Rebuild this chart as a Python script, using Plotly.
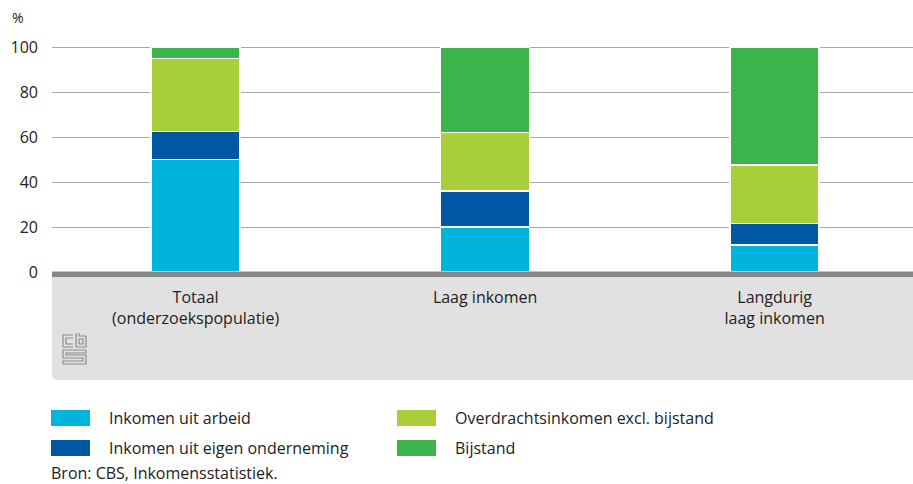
import plotly.graph_objects as go

# ---------------- data ----------------
categories = ["Totaal<br>(onderzoekspopulatie)", "Laag inkomen", "Langdurig<br>laag inkomen"]
series_names = [
    "Inkomen uit arbeid",
    "Inkomen uit eigen onderneming",
    "Overdrachtsinkomen excl. bijstand",
    "Bijstand",
]
arbeid = [50, 20, 12]
onderneming = [12.5, 16, 9.5]
overdracht = [32.5, 26, 26]
bijstand = [5, 38, 52.5]
y_ticks = [0, 20, 40, 60, 80, 100]
source_text = "Bron: CBS, Inkomensstatistiek."

colors = ["#00b4dc", "#0058a5", "#a8ce3a", "#3cb44c"]
FONT = "Open Sans, Roboto, DejaVu Sans, sans-serif"
TXT = "#222222"

W, H = 913, 484
ML, MR, MT, MB = 52, 0, 45, 212
PW = W - ML - MR
PH = H - MT - MB


def px(x):
    return (x - ML) / PW


def py(y):
    return (H - MB - y) / PH


fig = go.Figure()
for name, vals, col in zip(series_names, [arbeid, onderneming, overdracht, bijstand], colors):
    fig.add_trace(go.Bar(
        x=categories, y=vals, name=name, width=0.307,
        marker=dict(color=col, line=dict(color="white", width=1.5)),
        showlegend=False, hoverinfo="skip",
    ))

shapes = []
# grey category band with rounded lower-left corner
x0, x1, y0, y1, r = px(52), px(913), py(277), py(380), 6
shapes.append(dict(
    type="path", xref="paper", yref="paper", layer="below",
    path=(f"M {x0},{y0} L {x1},{y0} L {x1},{y1} L {px(52 + r)},{y1} "
          f"Q {x0},{y1} {x0},{py(380 - r)} Z"),
    fillcolor="#e1e1e1", line=dict(width=0),
))
# thick baseline under zero
shapes.append(dict(type="rect", xref="paper", yref="paper", layer="above",
                   x0=px(52), x1=px(913), y0=py(277), y1=py(271.5),
                   fillcolor="#878787", line=dict(width=0)))

# cbs logo (decoration)
logo_col = "#8c8c8c"
logo_paths = [
    # c
    [(73, 335), (63, 335), (63, 347), (73, 347)],
    [(73, 338), (66, 338), (66, 344), (73, 344)],
    # b
    [(76, 333), (76, 347), (86, 347), (86, 336), (79, 336), (79, 333)],
    [(79, 339), (79, 344), (83, 344), (83, 339), (79, 339)],
    # s
    [(86, 350), (63, 350), (63, 358), (83, 358), (83, 361), (63, 361), (63, 364), (86, 364),
     (86, 355), (66, 355), (66, 353), (86, 353), (86, 350)],
]
for pts in logo_paths:
    d = "M " + " L ".join(f"{px(a)},{py(b)}" for a, b in pts)
    shapes.append(dict(type="path", xref="paper", yref="paper", path=d,
                       line=dict(color=logo_col, width=1.2)))

annotations = [dict(x=px(10), y=py(18), xref="paper", yref="paper", text="%",
                    showarrow=False, xanchor="left", yanchor="middle",
                    font=dict(family=FONT, size=14, color=TXT))]

# custom legend (2 columns x 2 rows)
leg_pos = [(51, 418), (51, 448), (397, 418), (397, 448)]
for name, col, (lx, ly) in zip(series_names, colors, leg_pos):
    shapes.append(dict(type="rect", xref="paper", yref="paper",
                       x0=px(lx), x1=px(lx + 39), y0=py(ly - 8), y1=py(ly + 8),
                       fillcolor=col, line=dict(width=0)))
    annotations.append(dict(x=px(lx + 56), y=py(ly), xref="paper", yref="paper",
                            text=name, showarrow=False, xanchor="left", yanchor="middle",
                            font=dict(family=FONT, size=16, color=TXT)))
annotations.append(dict(x=px(49), y=py(473), xref="paper", yref="paper",
                        text=source_text, showarrow=False, xanchor="left", yanchor="middle",
                        font=dict(family=FONT, size=16, color=TXT)))

fig.update_layout(
    width=W, height=H,
    margin=dict(l=ML, r=MR, t=MT, b=MB, pad=0),
    barmode="stack", bargap=0.69,
    paper_bgcolor="white", plot_bgcolor="white",
    font=dict(family=FONT, size=16, color=TXT),
    shapes=shapes, annotations=annotations,
    xaxis=dict(type="category", range=[-0.496, 2.478], showgrid=False, showline=False,
               zeroline=False, ticks="", ticklabelstandoff=14,
               tickfont=dict(family=FONT, size=16, color=TXT)),
    yaxis=dict(range=[0, 101], tickvals=y_ticks, showgrid=True, gridcolor="#a8a8a8",
               gridwidth=1, zeroline=False, showline=False, ticks="",
               ticklabelstandoff=13, tickfont=dict(family=FONT, size=16, color=TXT)),
)

fig.write_html(
    "out.html",
    config={"displayModeBar": False, "staticPlot": True},
    post_script="document.body.style.margin='0px';document.body.style.overflow='hidden';",
)
